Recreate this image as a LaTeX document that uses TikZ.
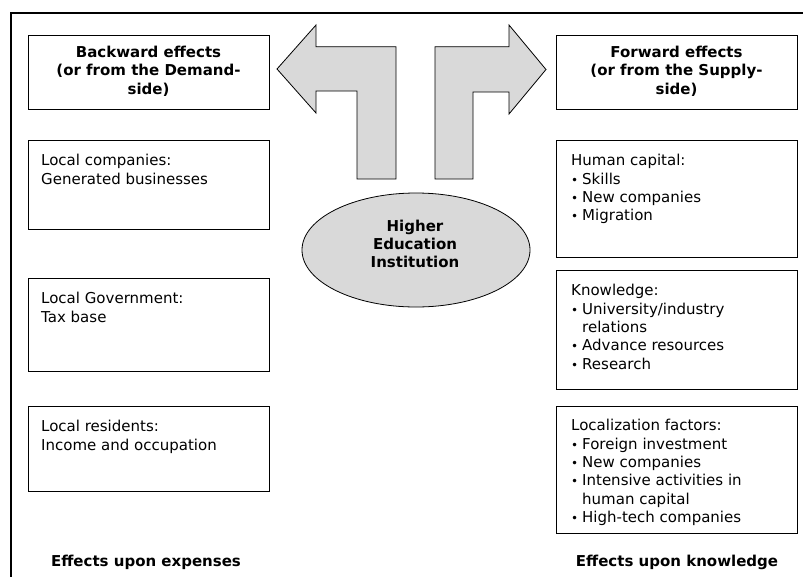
\documentclass[tikz,border=0pt]{standalone}
\usepackage{fontspec}
\setmainfont{DejaVu Sans}
\usetikzlibrary{shapes.geometric}
\newcommand\bul{\makebox[11pt][l]{\fontsize{12}{12}\selectfont •}}
\newcommand\cont{\hspace*{11pt}}
\definecolor{fillgray}{HTML}{D9D9D9}
\begin{document}
\begin{tikzpicture}[x=1pt,y=-1pt,
  box/.style={draw=black, line width=1.3pt, rectangle, inner sep=0pt, anchor=north west, minimum width=241pt},
  txt/.style={anchor=north west, align=left, inner sep=0pt, font=\fontsize{15}{18.4}\selectfont},
  head/.style={align=center, inner sep=0pt, font=\bfseries\fontsize{15}{18.4}\selectfont},
  blockarrow/.style={fill=fillgray, draw=black, line width=0.8pt, line join=miter}]
\useasboundingbox (0,0) rectangle (803,576);
% frame
\draw[line width=2pt, line join=miter] (11,577) -- (11,12.7) -- (804,12.7);
% left column
\node[box, minimum height=74pt] (back) at (28,35) {};
\node[head] (backt) at (148.5,71) {Backward effects\\(or from the Demand-\\side)};
\node[box, minimum height=89pt] (lc) at (28,140) {};
\node[txt] (lct) at (41,154) {Local companies:\\Generated businesses};
\node[box, minimum height=93pt] (lg) at (28,278) {};
\node[txt] (lgt) at (41,292) {Local Government:\\Tax base};
\node[box, minimum height=85pt] (lr) at (28,406) {};
\node[txt] (lrt) at (41,420) {Local residents:\\Income and occupation};
\node[head, anchor=base] (expl) at (146,566.5) {Effects upon expenses};
% right column
\node[box, minimum height=74pt] (fwd) at (556,35) {};
\node[head] (fwdt) at (676.5,71) {Forward effects\\(or from the Supply-\\side)};
\node[box, minimum height=117pt] (hc) at (556,140) {};
\node[txt] (hct) at (571,154) {Human capital:\\\bul Skills\\\bul New companies\\\bul Migration};
\node[box, minimum height=119pt] (kn) at (556,270) {};
\node[txt] (knt) at (571,284) {Knowledge:\\\bul University/industry\\\cont relations\\\bul Advance resources\\\bul Research};
\node[box, minimum height=127pt] (lf) at (556,406) {};
\node[txt] (lft) at (571,419) {Localization factors:\\\bul Foreign investment\\\bul New companies\\\bul Intensive activities in\\\cont human capital\\\bul High-tech companies};
\node[head, anchor=base] (knl) at (677,566.5) {Effects upon knowledge};
% centre
\node[ellipse, draw=black, line width=0.8pt, fill=fillgray, minimum width=228pt, minimum height=114pt, inner sep=0pt] (hei) at (416,250) {};
\node[head] (heit) at (415,244) {Higher\\Education\\Institution};
% block arrows
\draw[blockarrow] (277,69) -- (316,25) -- (316,46.7) -- (396,46.7) -- (396,179) -- (357,179) -- (357,91) -- (316,91) -- (316,113) -- cycle;
\draw[blockarrow] (546,69.5) -- (509,25) -- (509,46.7) -- (435,46.7) -- (435,179) -- (473,179) -- (473,92) -- (509,92) -- (509,114) -- cycle;
\end{tikzpicture}
\end{document}
